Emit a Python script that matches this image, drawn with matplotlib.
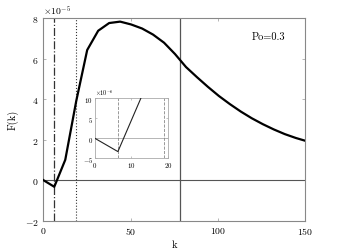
import numpy as np
import matplotlib
matplotlib.use("Agg")
import matplotlib.pyplot as plt

plt.rcParams['font.family'] = ['cmr10', 'DejaVu Serif']
plt.rcParams['mathtext.fontset'] = 'cm'
plt.rcParams['axes.formatter.use_mathtext'] = True

# data (F in units of 1e-5)
k = [0.0, 6.28, 12.57, 18.85, 25.13, 31.42, 37.70, 43.98, 50.27, 56.55,
     62.83, 69.12, 75.40, 81.68, 87.96, 94.25, 100.53, 106.81, 113.10,
     119.38, 125.66, 131.95, 138.23, 144.51, 150.80]
F = [0.0, -0.33, 1.0, 3.9, 6.42, 7.37, 7.75, 7.82, 7.68, 7.48,
     7.18, 6.78, 6.22, 5.58, 5.08, 4.60, 4.15, 3.75, 3.38,
     3.05, 2.76, 2.50, 2.27, 2.08, 1.92]
k_dashdot = 6.28
k_dotted = 18.85
k_solid = 78.0
xticks = [0, 50, 100, 150]
yticks = [-2, 0, 2, 4, 6, 8]
inset_xticks = [0, 10, 20]
inset_yticks = [-5, 0, 5, 10]
label_text = "Po=0.3"

Fv = np.array(F) * 1e-5

fig = plt.figure(figsize=(3.37, 2.53), dpi=100)
ax = fig.add_axes([0.1285, 0.124, 0.7775, 0.801])
ax.plot(k, Fv, color='black', lw=1.6, zorder=3)
ax.axhline(0, color='#555555', lw=0.8)
ax.axvline(k_dashdot, color='#333333', lw=0.9, ls='-.')
ax.axvline(k_dotted, color='#333333', lw=0.8, ls=':')
ax.axvline(k_solid, color='#555555', lw=0.9)
ax.set_xlim(0, 150)
ax.set_ylim(-2e-5, 8e-5)
ax.set_xticks(xticks)
ax.set_yticks([v * 1e-5 for v in yticks])
ax.ticklabel_format(axis='y', style='sci', scilimits=(0, 0))
ax.yaxis.get_offset_text().set_fontsize(7)
ax.tick_params(direction='in', length=2, width=0.6, color='#aaaaaa',
               labelsize=7, top=True, right=True)
for s in ax.spines.values():
    s.set_color('#888888')
    s.set_linewidth(0.8)
ax.set_xlabel('k', fontsize=7.5, labelpad=2)
ax.set_ylabel('F(k)', fontsize=7.5, labelpad=4)
ax.text(119.5, 7.08e-5, label_text, fontsize=7.5, va='center', ha='left')

# inset (values in units of 1e-6)
Fi = np.array(F) * 10
ins = fig.add_axes([0.282, 0.370, 0.216, 0.237])
ins.plot(k, Fi, color='#222222', lw=0.8, zorder=3)
ins.axhline(0, color='#aaaaaa', lw=0.6)
ins.axvline(k_dashdot, color='#888888', lw=0.6, ls='--')
ins.axvline(k_dotted, color='#888888', lw=0.6, ls='--')
ins.set_xlim(0, 20)
ins.set_ylim(-5, 10)
ins.set_xticks(inset_xticks)
ins.set_yticks(inset_yticks)
ins.text(0.0, 1.02, r'$\times10^{-6}$', transform=ins.transAxes,
         fontsize=4.5, ha='left', va='bottom')
ins.tick_params(direction='in', length=1.5, width=0.5, color='#aaaaaa',
                labelsize=5, pad=1.5, top=True, right=True)
for s in ins.spines.values():
    s.set_color('#aaaaaa')
    s.set_linewidth(0.6)

fig.savefig('out.png', dpi=100)
